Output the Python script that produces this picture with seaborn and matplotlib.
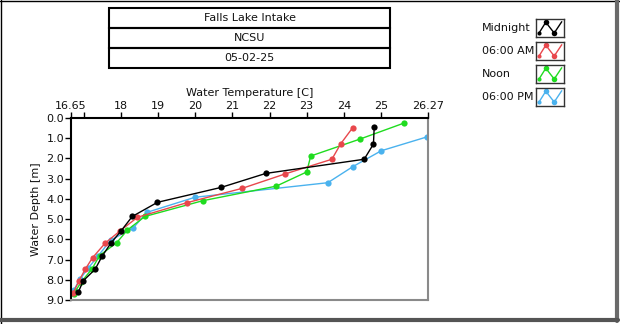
import matplotlib
matplotlib.use("Agg")
import matplotlib.pyplot as plt
import seaborn as sns
import pandas as pd
from matplotlib.patches import Rectangle
from matplotlib.lines import Line2D

# ---- data ----
series_names = ["Midnight", "06:00 AM", "Noon", "06:00 PM"]
series_colors = ["#000000", "#e8474c", "#1fdc1f", "#4ab2ee"]

midnight_temp = [24.82, 24.80, 24.55, 21.90, 20.70, 18.98, 18.30, 18.00, 17.72, 17.49, 17.30, 16.98, 16.85]
midnight_depth = [0.46, 1.29, 2.04, 2.74, 3.43, 4.17, 4.87, 5.58, 6.20, 6.83, 7.48, 8.05, 8.60]

am_temp = [24.24, 23.92, 23.68, 22.43, 21.26, 19.77, 18.44, 17.96, 17.57, 17.23, 17.03, 16.86, 16.71]
am_depth = [0.48, 1.27, 2.04, 2.76, 3.48, 4.19, 4.91, 5.60, 6.19, 6.91, 7.49, 8.07, 8.65]

noon_temp = [25.61, 24.44, 23.11, 23.00, 22.18, 20.20, 18.64, 18.17, 17.88, 17.42, 17.22, 16.93, 16.72]
noon_depth = [0.26, 1.04, 1.88, 2.67, 3.37, 4.09, 4.87, 5.54, 6.17, 6.80, 7.45, 8.10, 8.70]

pm_temp = [26.25, 25.01, 24.24, 23.57, 19.99, 18.69, 18.33, 17.72, 17.39, 17.12, 16.89, 16.73]
pm_depth = [0.93, 1.62, 2.41, 3.20, 3.92, 4.67, 5.43, 6.04, 6.80, 7.41, 7.97, 8.50]

x_ticks = [16.65, 17, 18, 19, 20, 21, 22, 23, 24, 25, 26.27]
x_tick_labels = ["16.65", "", "18", "19", "20", "21", "22", "23", "24", "25", "26.27"]
y_ticks = [0, 1, 2, 3, 4, 5, 6, 7, 8, 9]
y_tick_labels = ["0.0", "1.0", "2.0", "3.0", "4.0", "5.0", "6.0", "7.0", "8.0", "9.0"]

title_lines = ["Falls Lake Intake", "NCSU", "05-02-25"]
x_label = "Water Temperature [C]"
y_label = "Water Depth [m]"

frames = []
for name, t, d in [(series_names[0], midnight_temp, midnight_depth),
                   (series_names[1], am_temp, am_depth),
                   (series_names[2], noon_temp, noon_depth),
                   (series_names[3], pm_temp, pm_depth)]:
    frames.append(pd.DataFrame({"series": name, "temp": t, "depth": d, "order": range(len(t))}))
df = pd.concat(frames, ignore_index=True)

sns.set_theme(style="white")
plt.rcParams["font.family"] = ["DejaVu Sans"]

W, H = 620, 324
fig = plt.figure(figsize=(W / 100, H / 100), dpi=100)

def fx(px):
    return px / W

def fy(py):
    return 1 - py / H

# plot area: x 71..428, y 118..300
ax = fig.add_axes([fx(71), fy(300), (428 - 71) / W, (300 - 118) / H])

# draw in reverse so black is on top
for name, col in reversed(list(zip(series_names, series_colors))):
    sub = df[df["series"] == name]
    sns.lineplot(data=sub, x="temp", y="depth", sort=False, estimator=None,
                 color=col, marker="o", markersize=4.5, markeredgewidth=0,
                 linewidth=1.0, ax=ax, legend=False)

ax.set_xlim(16.65, 26.27)
ax.set_ylim(9, 0)
ax.xaxis.tick_top()
ax.xaxis.set_label_position("top")
ax.set_xticks(x_ticks)
ax.set_xticklabels(x_tick_labels)
ax.set_yticks(y_ticks)
ax.set_yticklabels(y_tick_labels)
ax.tick_params(axis="both", which="major", labelsize=8, length=4, width=1,
               direction="out", color="#000000", pad=1, labelcolor="#111111")
ax.tick_params(axis="x", top=True, bottom=False)
ax.tick_params(axis="y", left=True)
ax.set_xlabel(x_label, fontsize=8, labelpad=4, color="#111111")
ax.set_ylabel(y_label, fontsize=8, labelpad=4, color="#111111")
ax.grid(False)
for s in ["top", "left"]:
    ax.spines[s].set_color("#000000")
    ax.spines[s].set_linewidth(1.5)
for s in ["right", "bottom"]:
    ax.spines[s].set_color("#8a8a8a")
    ax.spines[s].set_linewidth(1.5)
    ax.spines[s].set_visible(True)

# title boxes
bx0, bx1 = 109, 390
rows = [8, 28, 48, 68]
for i, txt in enumerate(title_lines):
    y0, y1 = rows[i], rows[i + 1]
    fig.add_artist(Rectangle((fx(bx0), fy(y1)), (bx1 - bx0) / W, (y1 - y0) / H,
                             transform=fig.transFigure, fill=False,
                             edgecolor="black", linewidth=1.5))
    fig.text(fx((bx0 + bx1) / 2), fy((y0 + y1) / 2), txt, ha="center", va="center",
             fontsize=8, color="#111111")

# legend
leg_tops = [19, 42, 65, 88]
for name, col, top in zip(series_names, series_colors, leg_tops):
    fig.text(fx(482), fy(top + 9), name, ha="left", va="center", fontsize=8, color="#111111")
    iax = fig.add_axes([fx(536), fy(top + 18), 28 / W, 18 / H])
    iax.set_xlim(0, 1)
    iax.set_ylim(0, 1)
    iax.set_xticks([])
    iax.set_yticks([])
    for s in iax.spines.values():
        s.set_visible(True)
        s.set_color("#333333")
        s.set_linewidth(1.0)
    iax.add_line(Line2D([0.1, 0.35, 0.65, 0.92], [0.2, 0.82, 0.22, 0.85], color=col, linewidth=1.0))
    iax.add_line(Line2D([0.35, 0.65], [0.82, 0.22], color=col, linestyle="none",
                        marker="o", markersize=4, markeredgewidth=0))
    iax.add_line(Line2D([0.1], [0.2], color=col, linestyle="none",
                        marker="o", markersize=3, markeredgewidth=0))

# outer window border
fig.add_artist(Line2D([0, 1], [fy(0.5), fy(0.5)], transform=fig.transFigure, color="black", linewidth=1))
fig.add_artist(Line2D([fx(0.5), fx(0.5)], [0, 1], transform=fig.transFigure, color="black", linewidth=1))
fig.add_artist(Line2D([fx(617), fx(617)], [fy(0), fy(321)], transform=fig.transFigure, color="#6a6a6a", linewidth=3))
fig.add_artist(Line2D([fx(0), fx(618)], [fy(320), fy(320)], transform=fig.transFigure, color="#555555", linewidth=3))

fig.savefig("out.png", dpi=100)
